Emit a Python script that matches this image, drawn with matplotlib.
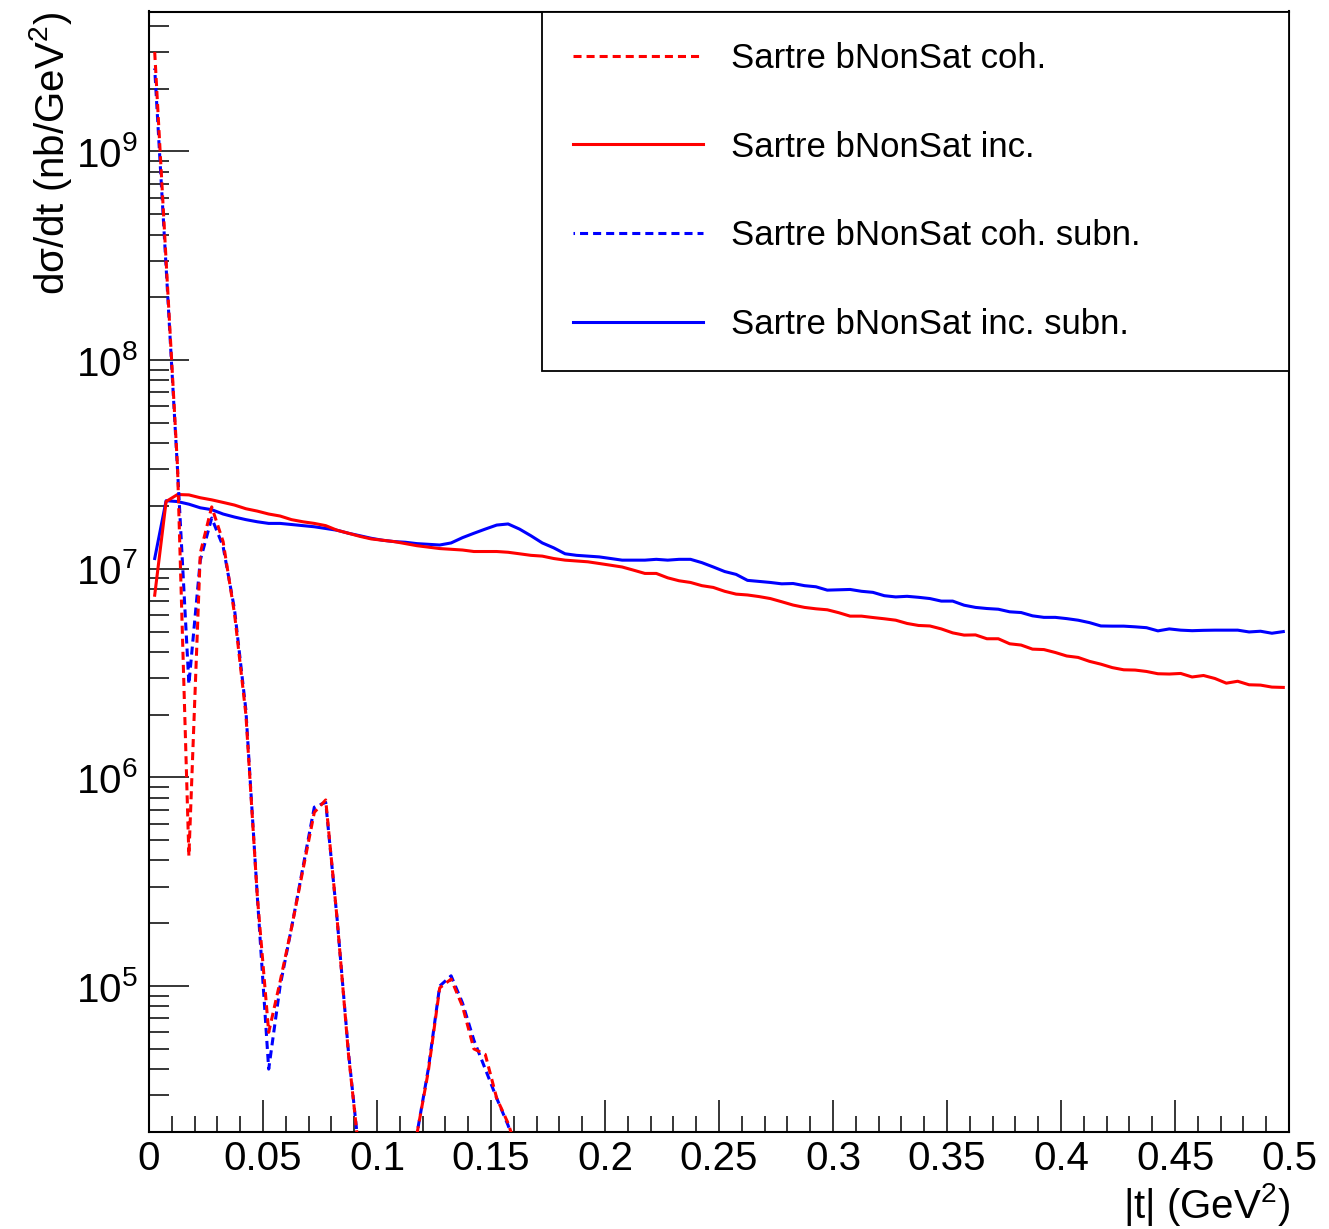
import numpy as np
import matplotlib
matplotlib.use("Agg")
import matplotlib.pyplot as plt
from matplotlib.ticker import LogLocator, MultipleLocator, FuncFormatter, NullFormatter
from matplotlib.lines import Line2D

plt.rcParams['font.family'] = ['Liberation Sans', 'DejaVu Sans']
plt.rcParams['mathtext.fontset'] = 'custom'
plt.rcParams['mathtext.rm'] = 'Liberation Sans'
plt.rcParams['lines.scale_dashes'] = False

# ---------------- data ----------------
t_edges = np.linspace(0.0, 0.5, 101)          # histogram binning, 100 bins
t_centers = 0.5 * (t_edges[:-1] + t_edges[1:])

nan = np.nan
coh = [3.0e9, 3.0e8, 3.1e7, 4.2e5, 1.19e7, 1.98e7, 1.35e7, 6.1e6, 2.0e6, 2.7e5,
       6.0e4, 1.05e5, 1.9e5, 3.6e5, 6.8e5, 7.8e5, 2.1e5, 4.7e4, 1.45e4, nan,
       nan, nan, nan, 1.95e4, 3.9e4, 9.8e4, 1.08e5, 8.0e4, 5.0e4, 4.7e4,
       2.9e4, 2.2e4, 1.5e4]

coh_subn = [2.5e9, 2.8e8, 3.0e7, 2.8e6, 1.1e7, 1.75e7, 1.28e7, 6.4e6, 2.1e6, 2.7e5,
            4.0e4, 1.0e5, 1.9e5, 3.7e5, 7.2e5, 7.6e5, 2.1e5, 4.8e4, 1.45e4, nan,
            nan, nan, nan, 1.95e4, 4.0e4, 1.0e5, 1.12e5, 8.3e4, 5.5e4, 4.0e4,
            2.9e4, 2.15e4, 1.5e4]

inc = [7.47e6, 2.10e7, 2.27e7, 2.26e7, 2.19e7, 2.14e7, 2.08e7, 2.02e7, 1.94e7, 1.89e7,
       1.83e7, 1.79e7, 1.72e7, 1.68e7, 1.65e7, 1.61e7, 1.53e7, 1.48e7, 1.43e7, 1.39e7,
       1.37e7, 1.35e7, 1.32e7, 1.29e7, 1.27e7, 1.25e7, 1.24e7, 1.23e7, 1.21e7, 1.21e7,
       1.21e7, 1.20e7, 1.18e7, 1.16e7, 1.15e7, 1.12e7, 1.10e7, 1.09e7, 1.08e7, 1.06e7,
       1.04e7, 1.02e7, 9.85e6, 9.5e6, 9.5e6, 9.05e6, 8.76e6, 8.6e6, 8.3e6, 8.14e6,
       7.8e6, 7.56e6, 7.49e6, 7.36e6, 7.2e6, 6.95e6, 6.7e6, 6.53e6, 6.43e6, 6.36e6,
       6.16e6, 5.93e6, 5.93e6, 5.84e6, 5.76e6, 5.67e6, 5.47e6, 5.35e6, 5.32e6, 5.15e6,
       4.93e6, 4.81e6, 4.82e6, 4.62e6, 4.62e6, 4.37e6, 4.31e6, 4.12e6, 4.1e6, 3.97e6,
       3.82e6, 3.76e6, 3.6e6, 3.49e6, 3.36e6, 3.28e6, 3.27e6, 3.22e6, 3.14e6, 3.13e6,
       3.15e6, 3.03e6, 3.08e6, 2.98e6, 2.83e6, 2.89e6, 2.78e6, 2.77e6, 2.71e6, 2.70e6]

inc_subn = [1.12e7, 2.12e7, 2.10e7, 2.04e7, 1.96e7, 1.92e7, 1.83e7, 1.77e7, 1.72e7, 1.68e7,
            1.65e7, 1.65e7, 1.63e7, 1.61e7, 1.59e7, 1.56e7, 1.53e7, 1.48e7, 1.44e7, 1.40e7,
            1.37e7, 1.35e7, 1.34e7, 1.32e7, 1.31e7, 1.30e7, 1.33e7, 1.41e7, 1.48e7, 1.55e7,
            1.62e7, 1.64e7, 1.55e7, 1.44e7, 1.33e7, 1.26e7, 1.18e7, 1.16e7, 1.15e7, 1.14e7,
            1.12e7, 1.10e7, 1.10e7, 1.10e7, 1.11e7, 1.10e7, 1.11e7, 1.11e7, 1.07e7, 1.02e7,
            9.7e6, 9.4e6, 8.8e6, 8.7e6, 8.6e6, 8.47e6, 8.5e6, 8.3e6, 8.2e6, 7.9e6,
            7.93e6, 7.96e6, 7.8e6, 7.71e6, 7.43e6, 7.33e6, 7.38e6, 7.30e6, 7.2e6, 7.0e6,
            7.0e6, 6.69e6, 6.53e6, 6.45e6, 6.4e6, 6.22e6, 6.17e6, 5.95e6, 5.85e6, 5.85e6,
            5.77e6, 5.67e6, 5.52e6, 5.32e6, 5.31e6, 5.31e6, 5.27e6, 5.22e6, 5.04e6, 5.15e6,
            5.08e6, 5.05e6, 5.07e6, 5.08e6, 5.08e6, 5.08e6, 4.98e6, 5.02e6, 4.91e6, 5.0e6]

labels = ["Sartre bNonSat coh.", "Sartre bNonSat inc.",
          "Sartre bNonSat coh. subn.", "Sartre bNonSat inc. subn."]

# ---------------- figure ----------------
W, H = 1329, 1229
fig = plt.figure(figsize=(W / 100, H / 100), dpi=100)
x0, x1, ytop, ybot = 149, 1289, 11.5, 1131.7
ax = fig.add_axes([x0 / W, 1 - ybot / H, (x1 - x0) / W, (ybot - ytop) / H])

lw = 2.2
dash = (5.8, 3.6)
l_bi, = ax.plot(t_centers, inc_subn, color='#0000ff', lw=lw, zorder=3)
l_ri, = ax.plot(t_centers, inc, color='#ff0000', lw=lw, zorder=4)
nc = len(coh)
l_bc, = ax.plot(t_centers[:nc], coh_subn, color='#0000ff', lw=lw,
                linestyle=(4.7, dash), zorder=5)
l_rc, = ax.plot(t_centers[:nc], coh, color='#ff0000', lw=lw,
                linestyle=(0, dash), zorder=6)

ax.set_yscale('log')
ax.set_xlim(0, 0.5)
ax.set_ylim(10 ** 4.302, 10 ** 9.671)

# ticks
ax.xaxis.set_major_locator(MultipleLocator(0.05))
ax.xaxis.set_minor_locator(MultipleLocator(0.01))
ax.xaxis.set_major_formatter(FuncFormatter(lambda v, p: '%g' % round(v, 3)))
ax.yaxis.set_major_locator(LogLocator(base=10, numticks=20))
ax.yaxis.set_minor_locator(LogLocator(base=10, subs=np.arange(2, 10), numticks=20))
ax.yaxis.set_minor_formatter(NullFormatter())
ax.yaxis.set_major_formatter(FuncFormatter(
    lambda v, p: r'$\mathregular{10^{%d}}$' % int(round(np.log10(v)))))

ax.tick_params(axis='x', which='major', direction='in', length=23, width=1.1,
               labelsize=29, pad=6, top=False)
ax.tick_params(axis='x', which='minor', direction='in', length=11.5, width=1.1, top=False)
ax.tick_params(axis='y', which='major', direction='in', length=29, width=1.1,
               labelsize=29, pad=8, right=False)
ax.tick_params(axis='y', which='minor', direction='in', length=14.4, width=1.1, right=False)

for s in ax.spines.values():
    s.set_linewidth(1.5)
    s.set_color('black')

# axis titles (ROOT style: aligned to the axis ends)
fig.text(1290 / W, 1 - 1205 / H, r'|t| ($\mathregular{GeV^{2}}$)', ha='right', va='center',
         fontsize=29)
fig.text(50 / W, 1 - 12 / H, 'dσ/dt (nb/' + r'$\mathregular{GeV^{2}}$' + ')',
         ha='center', va='top', rotation=90, fontsize=29)

# legend
axh = ybot - ytop
lx0 = (542 - x0) / (x1 - x0)
ly0 = (ybot - 368) / axh
leg = ax.legend([l_rc, l_ri, l_bc, l_bi], labels, loc='upper left',
                bbox_to_anchor=(lx0, ly0, 1 - lx0, 1 - ly0), mode='expand',
                borderaxespad=0, fontsize=25, handlelength=3.75, handletextpad=0.8,
                borderpad=0.88, labelspacing=1.6, fancybox=False, framealpha=1,
                edgecolor='black')
leg.get_frame().set_linewidth(1.3)
leg.set_zorder(10)

fig.savefig('out.png', dpi=100)
